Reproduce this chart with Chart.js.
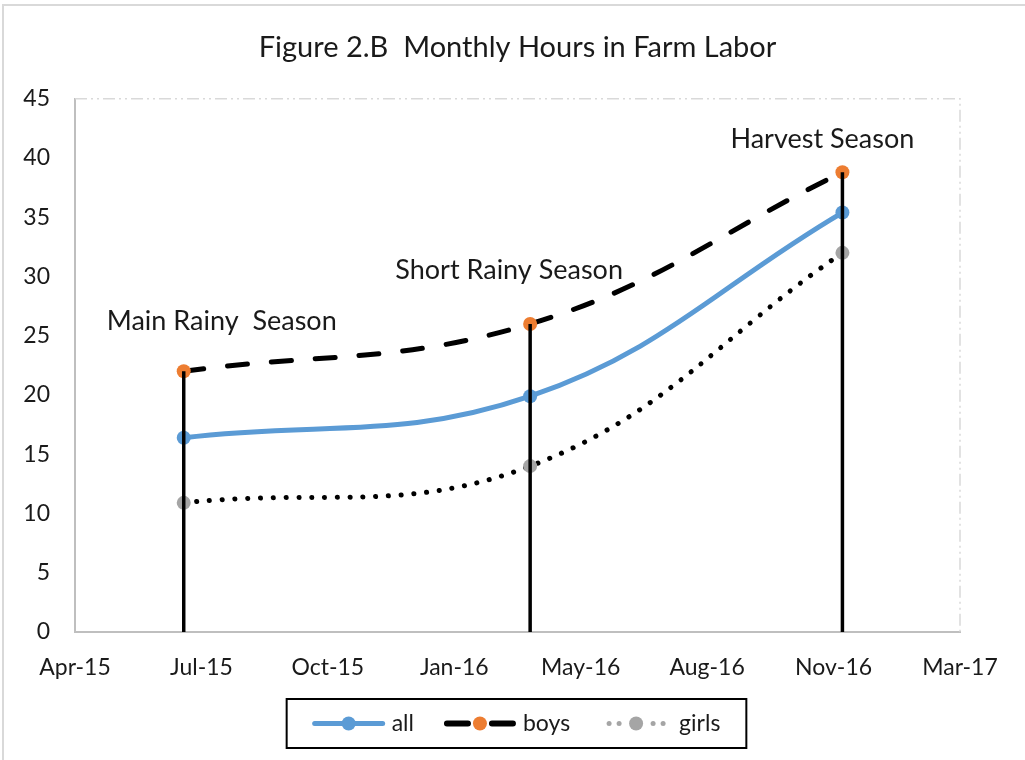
<!DOCTYPE html>
<html>
<head>
<meta charset="utf-8">
<title>Monthly Hours in Farm Labor</title>
<script src="https://cdn.jsdelivr.net/npm/chart.js@4.4.1/dist/chart.umd.min.js"></script>
<style>
  html, body { margin: 0; padding: 0; background: #fff; }
  #wrap { width: 1025px; height: 760px; position: relative; }
</style>
</head>
<body>
<div id="wrap"><canvas id="farmChart"></canvas></div>
<script>
// axis range and ticks (date axis, one major tick every 100 days)
const axisStart = '2015-04-01';
const axisEnd = '2017-03-01';
const xStepDays = 100;
const xTickLabels = ['Apr-15', 'Jul-15', 'Oct-15', 'Jan-16', 'May-16', 'Aug-16', 'Nov-16', 'Mar-17'];
const yMax = 45;
const yStep = 5;

// survey rounds
const surveyDates = ['2015-06-26', '2016-03-26', '2016-11-28'];
const seasonNames = ['Main Rainy  Season', 'Short Rainy Season', 'Harvest Season'];
const allHours = [16.4, 19.9, 35.4];
const boysHours = [22.0, 26.0, 38.8];
const girlsHours = [10.9, 14.0, 32.0];

const FONT = 'Lato, "Open Sans", sans-serif';
const DAY = 86400000;
const dayNo = d => (Date.parse(d) - Date.parse(axisStart)) / DAY;
const days = surveyDates.map(dayNo);
const pts = vals => vals.map((v, i) => ({ x: days[i], y: v }));

// vertical lines from the top value down to zero at each round
const dropPts = [];
days.forEach((d, i) => {
  const top = Math.max(allHours[i], boysHours[i], girlsHours[i]);
  dropPts.push({ x: d, y: top }, { x: d, y: 0 }, { x: d, y: null });
});

const framePlugin = {
  id: 'frame',
  beforeDraw(chart) {
    const ctx = chart.ctx;
    ctx.save();
    ctx.fillStyle = '#fff';
    ctx.fillRect(0, 0, chart.width, chart.height);
    ctx.strokeStyle = '#d9d9d9';
    ctx.lineWidth = 2;
    ctx.strokeRect(3, 5, chart.width + 20, chart.height + 20);
    ctx.restore();
  },
  beforeDatasetsDraw(chart) {
    const { ctx, chartArea: a } = chart;
    ctx.save();
    ctx.strokeStyle = '#d9d9d9';
    ctx.lineWidth = 1.5;
    ctx.setLineDash([12, 4, 2, 4, 2, 4]);
    ctx.beginPath();
    ctx.moveTo(a.left, a.top);
    ctx.lineTo(a.right, a.top);
    ctx.lineTo(a.right, a.bottom);
    ctx.stroke();
    ctx.restore();
  }
};

const seasonPlugin = {
  id: 'seasons',
  afterDatasetsDraw(chart) {
    const { ctx, scales: { x, y } } = chart;
    const offsets = [[38, -50], [-21, -54], [-20, -33]];
    ctx.save();
    ctx.font = '27px ' + FONT;
    ctx.fillStyle = '#1a1a1a';
    ctx.textAlign = 'center';
    ctx.textBaseline = 'middle';
    seasonNames.forEach((name, i) => {
      const px = x.getPixelForValue(days[i]) + offsets[i][0];
      const py = y.getPixelForValue(boysHours[i]) + offsets[i][1];
      ctx.fillText(name, px, py);
    });
    ctx.restore();
  }
};

const legendPlugin = {
  id: 'boxLegend',
  afterDraw(chart) {
    const { ctx, chartArea: a } = chart;
    const items = chart.data.datasets.filter(ds => ds.legendStyle);
    const sampleW = 72, gapText = 7, gapItem = 30, padX = 26;
    ctx.save();
    ctx.font = '23px ' + FONT;
    let total = padX * 2;
    items.forEach((ds, i) => {
      total += sampleW + gapText + ctx.measureText(ds.label).width + (i ? gapItem : 0);
    });
    const left = (a.left + a.right) / 2 - total / 2 - 1;
    const top = a.bottom + 67;
    const h = 49;
    ctx.strokeStyle = '#000';
    ctx.lineWidth = 2;
    ctx.strokeRect(left, top, total, h);
    const cy = top + h / 2;
    let cx = left + padX;
    items.forEach((ds, i) => {
      if (i) cx += gapItem;
      const x1 = cx, x2 = cx + sampleW, mid = (x1 + x2) / 2;
      ctx.lineCap = 'round';
      ctx.setLineDash([]);
      if (ds.legendStyle === 'solid') {
        ctx.strokeStyle = ds.borderColor;
        ctx.lineWidth = 5;
        ctx.beginPath(); ctx.moveTo(x1 + 2, cy); ctx.lineTo(x2 - 2, cy); ctx.stroke();
      } else if (ds.legendStyle === 'dash') {
        ctx.strokeStyle = ds.borderColor;
        ctx.lineWidth = 6;
        ctx.beginPath();
        ctx.moveTo(x1 + 3, cy); ctx.lineTo(mid - 12, cy);
        ctx.moveTo(mid + 12, cy); ctx.lineTo(x2 - 3, cy);
        ctx.stroke();
      } else {
        ctx.fillStyle = ds.pointBackgroundColor;
        [-27, -17, 17, 27].forEach(o => {
          ctx.beginPath(); ctx.arc(mid + o, cy, 2.5, 0, Math.PI * 2); ctx.fill();
        });
      }
      ctx.fillStyle = ds.pointBackgroundColor;
      ctx.beginPath(); ctx.arc(mid, cy, 7, 0, Math.PI * 2); ctx.fill();
      ctx.fillStyle = '#1a1a1a';
      ctx.textAlign = 'left';
      ctx.textBaseline = 'middle';
      ctx.fillText(ds.label, x2 + gapText, cy);
      cx = x2 + gapText + ctx.measureText(ds.label).width;
    });
    ctx.restore();
  }
};

new Chart(document.getElementById('farmChart'), {
  type: 'line',
  data: {
    datasets: [
      {
        label: 'all', data: pts(allHours), order: 2,
        borderColor: '#5b9bd5', borderWidth: 5, tension: 0.4,
        pointRadius: 7, pointBackgroundColor: '#5b9bd5', pointBorderWidth: 0,
        legendStyle: 'solid'
      },
      {
        label: 'boys', data: pts(boysHours), order: 3,
        borderColor: '#000', borderWidth: 5, borderDash: [20, 24], borderCapStyle: 'round', tension: 0.4,
        pointRadius: 7, pointBackgroundColor: '#ed7d31', pointBorderWidth: 0,
        legendStyle: 'dash'
      },
      {
        label: 'girls', data: pts(girlsHours), order: 1,
        borderColor: '#000', borderWidth: 5, borderDash: [0.1, 12.7], borderCapStyle: 'round', tension: 0.4,
        pointRadius: 7, pointBackgroundColor: '#a5a5a5', pointBorderWidth: 0,
        legendStyle: 'dot'
      },
      {
        label: 'drop', data: dropPts, order: 0,
        borderColor: '#000', borderWidth: 3.5, pointRadius: 0, spanGaps: false
      }
    ]
  },
  options: {
    responsive: true,
    maintainAspectRatio: false,
    animation: false,
    layout: { padding: { left: 0, right: 65, top: 0, bottom: 78 } },
    plugins: {
      legend: { display: false },
      tooltip: { enabled: false },
      title: {
        display: true,
        fullSize: false,
        text: 'Figure 2.B  Monthly Hours in Farm Labor',
        color: '#1a1a1a',
        font: { family: FONT, size: 29, weight: 'normal' },
        padding: { top: 30, bottom: 34 }
      }
    },
    scales: {
      x: {
        type: 'linear',
        min: 0,
        max: dayNo(axisEnd),
        grid: { display: false, drawTicks: false },
        border: { display: true, color: '#bfbfbf', width: 2 },
        ticks: {
          stepSize: xStepDays,
          autoSkip: false,
          maxRotation: 0,
          padding: 22,
          color: '#1a1a1a',
          font: { family: FONT, size: 23 },
          callback: (v, i) => xTickLabels[i]
        },
        afterFit: s => { s.height = 50; }
      },
      y: {
        min: 0,
        max: yMax,
        grid: { display: false, drawTicks: false },
        border: { display: true, color: '#bfbfbf', width: 2 },
        ticks: {
          stepSize: yStep,
          padding: 25,
          color: '#1a1a1a',
          font: { family: FONT, size: 23 }
        },
        afterFit: s => { s.width = 75; }
      }
    }
  },
  plugins: [framePlugin, seasonPlugin, legendPlugin]
});
</script>
</body>
</html>
